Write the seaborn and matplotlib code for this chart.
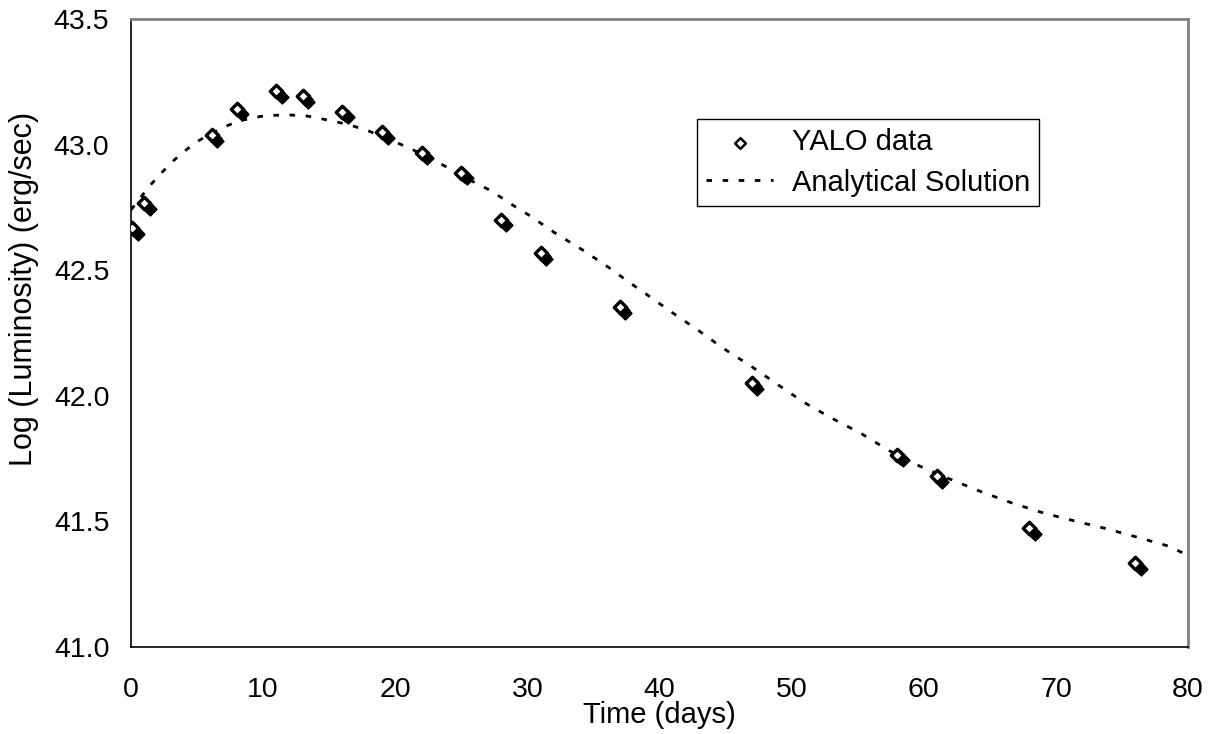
import matplotlib
matplotlib.use("Agg")
import matplotlib.pyplot as plt
import matplotlib.transforms as mtransforms
import seaborn as sns
import pandas as pd

# YALO data
days = [0.1, 1.0, 6.1, 8.0, 11.0, 13.0, 16.0, 19.0, 22.0, 25.0, 28.0, 31.0,
        37.0, 47.0, 58.0, 61.0, 68.0, 76.0]
log_lum = [42.668, 42.767, 43.038, 43.142, 43.213, 43.193, 43.13, 43.05,
           42.967, 42.887, 42.70, 42.568, 42.353, 42.051, 41.765, 41.68,
           41.472, 41.334]

# Analytical solution
model_days = [0.0, 1.4, 2.3, 3.3, 4.2, 5.2, 6.3, 7.4, 8.5, 9.8, 11.0, 12.0,
              13.3, 14.5, 15.6, 16.7, 18.0, 20.2, 21.4, 23.6, 25.8, 27.0,
              28.1, 29.1, 30.1, 32.1, 34.2, 36.1, 38.0, 39.1, 41.0, 42.9,
              44.8, 46.9, 48.8, 50.9, 53.0, 55.2, 57.3, 59.7, 62.0, 64.4,
              66.7, 69.1, 71.4, 73.6, 76.1, 78.5, 80.0]
model_lum = [42.74, 42.835, 42.887, 42.94, 42.98, 43.018, 43.05, 43.078,
             43.098, 43.112, 43.117, 43.118, 43.114, 43.102, 43.09, 43.076,
             43.054, 43.006, 42.978, 42.919, 42.855, 42.823, 42.787, 42.752,
             42.72, 42.648, 42.58, 42.513, 42.441, 42.401, 42.33, 42.262,
             42.19, 42.119, 42.05, 41.975, 41.912, 41.852, 41.784, 41.72,
             41.668, 41.617, 41.573, 41.533, 41.502, 41.474, 41.438, 41.402,
             41.365]

x_ticks = [0, 10, 20, 30, 40, 50, 60, 70, 80]
y_ticks = [41.0, 41.5, 42.0, 42.5, 43.0, 43.5]

sns.set_style("white")
plt.rcParams["font.family"] = ["Liberation Sans", "DejaVu Sans"]
plt.rcParams["text.color"] = "black"
plt.rcParams["axes.labelcolor"] = "black"

df_data = pd.DataFrame({"day": days, "lum": log_lum})
df_model = pd.DataFrame({"day": model_days, "lum": model_lum})

fig = plt.figure(figsize=(12.17, 7.34), dpi=100)
ax = fig.add_axes([0.1076, 0.1185, 0.8686, 0.8556])

sns.lineplot(data=df_model, x="day", y="lum", ax=ax, color="black",
             linewidth=2.0, linestyle=(0, (2.0, 3.8)), label="Analytical Solution",
             zorder=2, sort=False)

# shadow of the markers (Excel-style 3D effect)
for d in [1.5, 3.0, 4.5, 5.5]:
    tr = mtransforms.offset_copy(ax.transData, fig=fig, x=d, y=-d, units="dots")
    sns.scatterplot(data=df_data, x="day", y="lum", ax=ax, marker="D", s=46,
                    color="black", edgecolor="black", linewidth=0.8,
                    transform=tr, legend=False, zorder=3)

sns.scatterplot(data=df_data, x="day", y="lum", ax=ax, marker="D", s=40,
                facecolor="white", edgecolor="black", linewidth=2.4,
                label="YALO data", zorder=4)

ax.set_xlim(0, 80)
ax.set_ylim(41.0, 43.5)
ax.set_xticks(x_ticks)
ax.set_xticklabels([str(v) for v in x_ticks])
ax.set_yticks(y_ticks)
ax.set_yticklabels([f"{v:.1f}" for v in y_ticks])

ax.tick_params(axis="both", labelsize=20.5, direction="out", length=6.5,
               width=1.0, color="black", labelcolor="black")
ax.tick_params(axis="x", pad=15)
ax.tick_params(axis="y", pad=9)

for side in ["left", "bottom"]:
    ax.spines[side].set_color("black")
    ax.spines[side].set_linewidth(1.2)
for side in ["top", "right"]:
    ax.spines[side].set_visible(True)
    ax.spines[side].set_color("#808080")
    ax.spines[side].set_linewidth(2.0)

ax.set_xlabel("Time (days)", fontsize=21, labelpad=-1, color="black")
ax.set_ylabel("Log (Luminosity) (erg/sec)", fontsize=22, color="black")
ax.yaxis.set_label_coords(-0.087, 0.57)

handles, labels = ax.get_legend_handles_labels()
order = [labels.index("YALO data"), labels.index("Analytical Solution")]
leg = ax.legend([handles[i] for i in order], [labels[i] for i in order],
                loc="upper left", bbox_to_anchor=(0.5355, 0.8408),
                borderaxespad=0, fontsize=21, frameon=True, fancybox=False,
                edgecolor="black", framealpha=1, borderpad=0.32,
                labelspacing=0.42, handlelength=2.3, handletextpad=0.62,
                labelcolor="black")
leg.get_frame().set_linewidth(1.0)
for h in leg.legend_handles:
    try:
        h.set_sizes([30])
        h.set_linewidth(1.8)
    except AttributeError:
        pass

fig.savefig("out.png", dpi=100, facecolor="white")
